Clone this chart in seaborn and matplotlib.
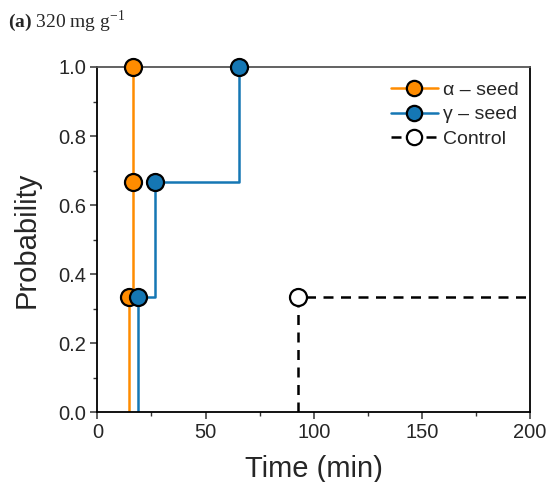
import matplotlib
matplotlib.use("Agg")
import matplotlib.pyplot as plt
import seaborn as sns
import pandas as pd
from matplotlib.ticker import MultipleLocator
from matplotlib.lines import Line2D

# data
series_names = ["α – seed", "γ – seed", "Control"]
alpha_time = [14.5, 16.3, 16.3]
alpha_prob = [0.333, 0.667, 1.0]
gamma_time = [19.0, 26.5, 65.6]
gamma_prob = [0.333, 0.667, 1.0]
control_time = [92.7]
control_prob = [0.333]
line_end = [16.3, 65.6, 200]   # where each step line stops

sns.set_theme(style="ticks")
plt.rcParams["font.family"] = ["Liberation Sans", "DejaVu Sans"]
plt.rcParams["mathtext.fontset"] = "custom"
plt.rcParams["mathtext.rm"] = "Liberation Serif"
plt.rcParams["mathtext.bf"] = "Liberation Serif:bold"

fig = plt.figure(figsize=(5.47, 4.82), dpi=100)
ax = fig.add_axes([0.178, 0.145, 0.791, 0.716])

colors = ["#FF8C00", "#1577B4", "black"]
faces = ["#FF8C00", "#1577B4", "white"]
styles = ["-", "-", (0, (4, 3))]
data = [(alpha_time, alpha_prob), (gamma_time, gamma_prob), (control_time, control_prob)]

for name, (t, p), xe, c, fc, ls in zip(series_names, data, line_end, colors, faces, styles):
    lx = [t[0]] + list(t) + [xe]
    ly = [0] + list(p) + [p[-1]]
    df = pd.DataFrame({"x": lx, "y": ly})
    sns.lineplot(data=df, x="x", y="y", ax=ax, estimator=None, sort=False,
                 color=c, linewidth=1.8, drawstyle="steps-post", linestyle=ls,
                 zorder=1.5)
    dm = pd.DataFrame({"x": t, "y": p})
    sns.scatterplot(data=dm, x="x", y="y", ax=ax, s=150, color=fc,
                    edgecolor="black", linewidth=1.6, zorder=4, clip_on=False)

ax.set_xlim(0, 200)
ax.set_ylim(0, 1.0)
ax.xaxis.set_major_locator(MultipleLocator(50))
ax.xaxis.set_minor_locator(MultipleLocator(25))
ax.yaxis.set_major_locator(MultipleLocator(0.2))
ax.yaxis.set_minor_locator(MultipleLocator(0.1))
ax.set_yticklabels([f"{v:.1f}" for v in ax.get_yticks()])
ax.tick_params(which="major", direction="out", length=5, width=1.1, labelsize=14.5,
               color="#333333", pad=3)
ax.tick_params(which="minor", direction="out", length=3, width=1.0, color="#333333")
for k, s in ax.spines.items():
    s.set_visible(True)
    s.set_color("#555555" if k == "top" else "black")
    s.set_linewidth(1.3)

ax.set_xlabel("Time (min)", fontsize=21, labelpad=9)
ax.set_ylabel("Probability", fontsize=21, labelpad=13)

handles = [Line2D([0], [0], color=c, linestyle=ls, linewidth=1.8, marker="o",
                  markersize=11, markerfacecolor=fc, markeredgecolor="black",
                  markeredgewidth=1.6)
           for c, fc, ls in zip(colors, faces, styles)]
ax.legend(handles, series_names, loc="upper right", bbox_to_anchor=(1.0, 0.992),
          frameon=False, fontsize=14, handlelength=2.4, handletextpad=0.25,
          labelspacing=0.35, borderaxespad=0.2)

fig.text(0.015, 0.944, r"$\mathbf{(a)}$ 320 mg g$^{\mathrm{-1}}$", fontsize=14,
         family="Liberation Serif", va="baseline", ha="left")

fig.savefig("out.png", dpi=100)
